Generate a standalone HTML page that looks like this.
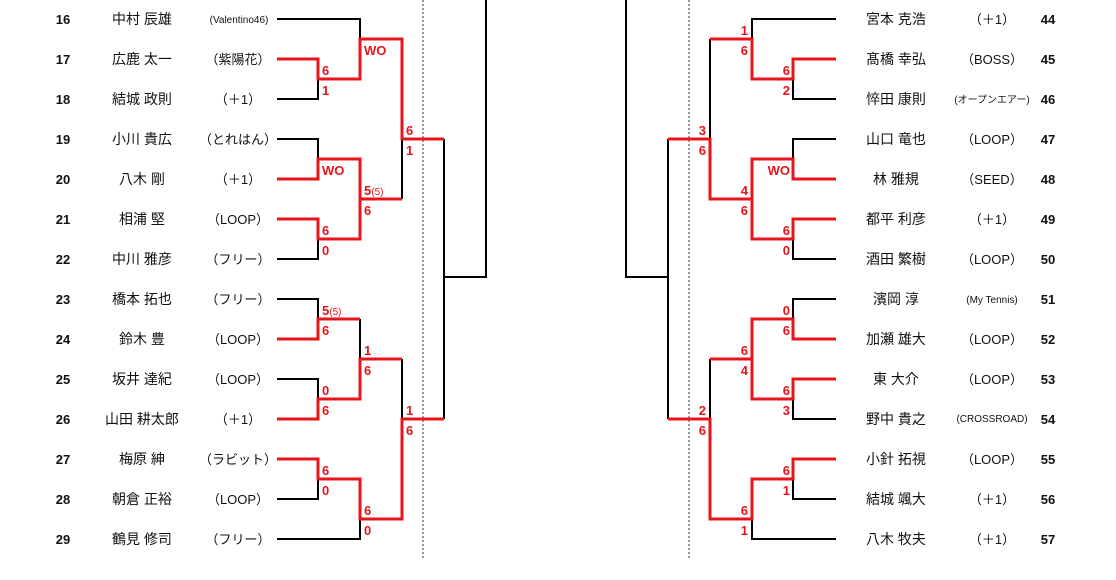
<!DOCTYPE html>
<html><head><meta charset="utf-8"><style>
html,body{margin:0;padding:0;background:#fff;}
svg{display:block;}
text{font-family:"Liberation Sans","Noto Sans CJK JP",sans-serif;}
.n{font-size:13px;font-weight:bold;fill:#111;text-anchor:middle;}
.m{font-size:14px;fill:#111;text-anchor:middle;}
.c{font-size:13px;fill:#111;text-anchor:middle;}
.s{font-size:10px;fill:#111;text-anchor:middle;}
.r{font-size:13px;font-weight:bold;fill:#e8141b;}
.re{font-size:13px;font-weight:bold;fill:#e8141b;text-anchor:end;}
.B{fill:none;stroke:#000;stroke-width:2;}
.R{fill:none;stroke:#e8141b;stroke-width:3;}
</style></head><body>
<svg width="1116" height="580" viewBox="0 0 1116 580" xmlns="http://www.w3.org/2000/svg">
<line x1="423" y1="0" x2="423" y2="558" stroke="#333" stroke-width="1" stroke-dasharray="2,2"/>
<line x1="689" y1="0" x2="689" y2="558" stroke="#333" stroke-width="1" stroke-dasharray="2,2"/>
<!-- left black -->
<path class="B" d="M277,19H360V39M277,99H318V79M277,139H318V159M277,259H318V239M360,159V199M402,199V139M444,139V277H486V0
M277,299H318V319M277,379H318V399M360,319V359M277,499H318V479M277,539H360V519M402,359V419M444,419V277"/>
<!-- left red -->
<path class="R" d="M277,59H318V79H360V39H402V139H444M277,179H318V159H360V199H402M277,219H318V239H360V199
M277,339H318V319H360M277,419H318V399H360V359H402M277,459H318V479H360V519H402V419H444"/>
<!-- right black -->
<path class="B" d="M836,19H752V39M836,99H793V79M836,139H793V159M836,259H793V239M710,39V139M668,139V277H626V0
M836,299H793V319M836,419H793V399M710,359V419M836,499H793V479M836,539H752V519M668,419V277"/>
<!-- right red -->
<path class="R" d="M836,59H793V79H752V39H710M836,179H793V159H752V199H710V139H668M836,219H793V239H752V199
M836,339H793V319H752V359H710M836,379H793V399H752V359M836,459H793V479H752V519H710V419H668"/>
<!-- left scores -->
<text class="r" x="364" y="55">WO</text><text class="r" x="322" y="75">6</text><text class="r" x="322" y="95">1</text>
<text class="r" x="322" y="175">WO</text><text class="r" x="364" y="195">5<tspan font-size="10" font-weight="normal">(5)</tspan></text><text class="r" x="364" y="215">6</text>
<text class="r" x="322" y="235">6</text><text class="r" x="322" y="255">0</text>
<text class="r" x="406" y="135">6</text><text class="r" x="406" y="155">1</text>
<text class="r" x="322" y="315">5<tspan font-size="10" font-weight="normal">(5)</tspan></text><text class="r" x="322" y="335">6</text>
<text class="r" x="364" y="355">1</text><text class="r" x="364" y="375">6</text>
<text class="r" x="322" y="395">0</text><text class="r" x="322" y="415">6</text>
<text class="r" x="406" y="415">1</text><text class="r" x="406" y="435">6</text>
<text class="r" x="322" y="475">6</text><text class="r" x="322" y="495">0</text>
<text class="r" x="364" y="515">6</text><text class="r" x="364" y="535">0</text>
<!-- right scores -->
<text class="re" x="748" y="35">1</text><text class="re" x="748" y="55">6</text>
<text class="re" x="790" y="75">6</text><text class="re" x="790" y="95">2</text>
<text class="re" x="706" y="135">3</text><text class="re" x="706" y="155">6</text>
<text class="re" x="790" y="175">WO</text>
<text class="re" x="748" y="195">4</text><text class="re" x="748" y="215">6</text>
<text class="re" x="790" y="235">6</text><text class="re" x="790" y="255">0</text>
<text class="re" x="790" y="315">0</text><text class="re" x="790" y="335">6</text>
<text class="re" x="748" y="355">6</text><text class="re" x="748" y="375">4</text>
<text class="re" x="790" y="395">6</text><text class="re" x="790" y="415">3</text>
<text class="re" x="706" y="415">2</text><text class="re" x="706" y="435">6</text>
<text class="re" x="790" y="475">6</text><text class="re" x="790" y="495">1</text>
<text class="re" x="748" y="515">6</text><text class="re" x="748" y="535">1</text>
<!-- left players -->
<g>
<text class="n" x="63" y="24">16</text><text class="m" x="142" y="24">中村 辰雄</text><text class="s" x="239" y="23">(Valentino46)</text>
<text class="n" x="63" y="64">17</text><text class="m" x="142" y="64">広鹿 太一</text><text class="c" x="238" y="64">（紫陽花）</text>
<text class="n" x="63" y="104">18</text><text class="m" x="142" y="104">結城 政則</text><text class="c" x="238" y="104">（＋1）</text>
<text class="n" x="63" y="144">19</text><text class="m" x="142" y="144">小川 貴広</text><text class="c" x="238" y="144">（とれはん）</text>
<text class="n" x="63" y="184">20</text><text class="m" x="142" y="184">八木 剛</text><text class="c" x="238" y="184">（＋1）</text>
<text class="n" x="63" y="224">21</text><text class="m" x="142" y="224">相浦 堅</text><text class="c" x="238" y="224">（LOOP）</text>
<text class="n" x="63" y="264">22</text><text class="m" x="142" y="264">中川 雅彦</text><text class="c" x="238" y="264">（フリー）</text>
<text class="n" x="63" y="304">23</text><text class="m" x="142" y="304">橋本 拓也</text><text class="c" x="238" y="304">（フリー）</text>
<text class="n" x="63" y="344">24</text><text class="m" x="142" y="344">鈴木 豊</text><text class="c" x="238" y="344">（LOOP）</text>
<text class="n" x="63" y="384">25</text><text class="m" x="142" y="384">坂井 達紀</text><text class="c" x="238" y="384">（LOOP）</text>
<text class="n" x="63" y="424">26</text><text class="m" x="142" y="424">山田 耕太郎</text><text class="c" x="238" y="424">（＋1）</text>
<text class="n" x="63" y="464">27</text><text class="m" x="142" y="464">梅原 紳</text><text class="c" x="238" y="464">（ラビット）</text>
<text class="n" x="63" y="504">28</text><text class="m" x="142" y="504">朝倉 正裕</text><text class="c" x="238" y="504">（LOOP）</text>
<text class="n" x="63" y="544">29</text><text class="m" x="142" y="544">鶴見 修司</text><text class="c" x="238" y="544">（フリー）</text>
</g>
<!-- right players -->
<g>
<text class="m" x="896" y="24">宮本 克浩</text><text class="c" x="992" y="24">（＋1）</text><text class="n" x="1048" y="24">44</text>
<text class="m" x="896" y="64">髙橋 幸弘</text><text class="c" x="992" y="64">（BOSS）</text><text class="n" x="1048" y="64">45</text>
<text class="m" x="896" y="104">悴田 康則</text><text class="s" x="992" y="103">(オープンエアー)</text><text class="n" x="1048" y="104">46</text>
<text class="m" x="896" y="144">山口 竜也</text><text class="c" x="992" y="144">（LOOP）</text><text class="n" x="1048" y="144">47</text>
<text class="m" x="896" y="184">林 雅規</text><text class="c" x="992" y="184">（SEED）</text><text class="n" x="1048" y="184">48</text>
<text class="m" x="896" y="224">都平 利彦</text><text class="c" x="992" y="224">（＋1）</text><text class="n" x="1048" y="224">49</text>
<text class="m" x="896" y="264">酒田 繁樹</text><text class="c" x="992" y="264">（LOOP）</text><text class="n" x="1048" y="264">50</text>
<text class="m" x="896" y="304">濱岡 淳</text><text class="s" x="992" y="303" font-size="11">(My Tennis)</text><text class="n" x="1048" y="304">51</text>
<text class="m" x="896" y="344">加瀬 雄大</text><text class="c" x="992" y="344">（LOOP）</text><text class="n" x="1048" y="344">52</text>
<text class="m" x="896" y="384">東 大介</text><text class="c" x="992" y="384">（LOOP）</text><text class="n" x="1048" y="384">53</text>
<text class="m" x="896" y="424">野中 貴之</text><text class="s" x="992" y="422" font-size="9">(CROSSROAD)</text><text class="n" x="1048" y="424">54</text>
<text class="m" x="896" y="464">小針 拓視</text><text class="c" x="992" y="464">（LOOP）</text><text class="n" x="1048" y="464">55</text>
<text class="m" x="896" y="504">結城 颯大</text><text class="c" x="992" y="504">（＋1）</text><text class="n" x="1048" y="504">56</text>
<text class="m" x="896" y="544">八木 牧夫</text><text class="c" x="992" y="544">（＋1）</text><text class="n" x="1048" y="544">57</text>
</g>
</svg>
</body></html>
